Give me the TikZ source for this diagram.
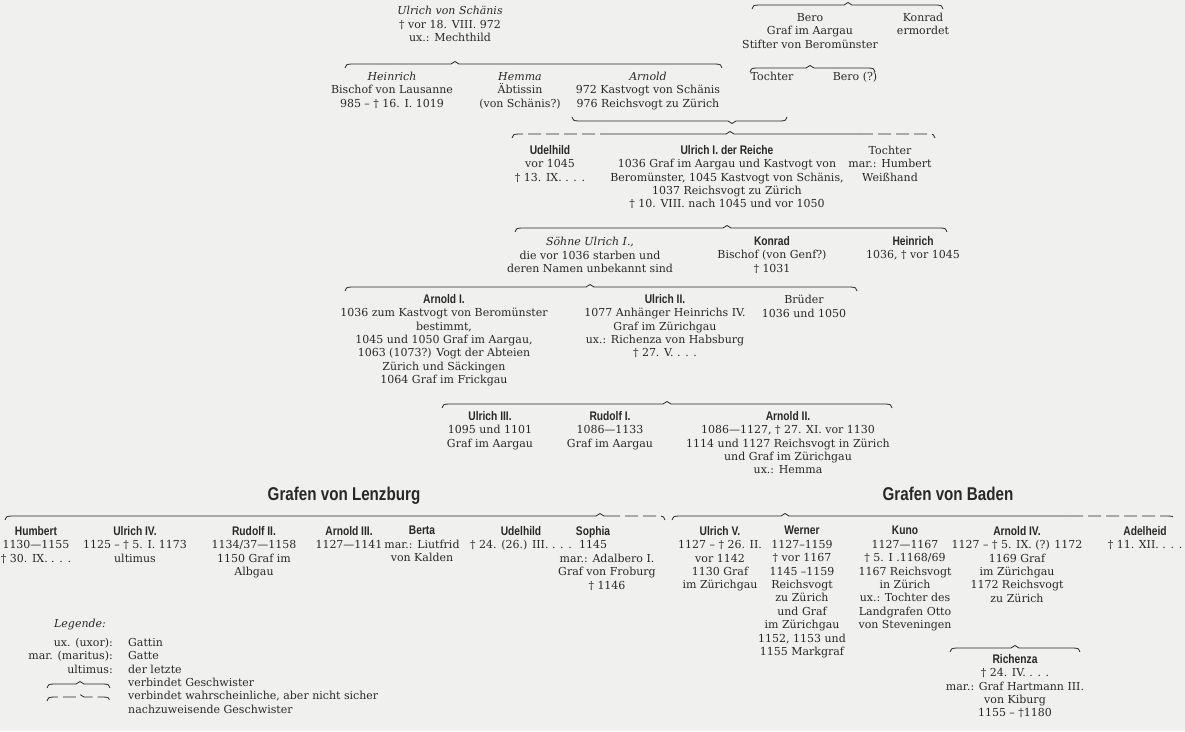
\documentclass[tikz,border=0pt]{standalone}
\usepackage{fontspec}
\setmainfont{DejaVu Serif}
\newfontfamily\namefont{Liberation Sans}[FakeStretch=0.82]
\usetikzlibrary{positioning}
\definecolor{papier}{RGB}{240,240,238}
\definecolor{tinte}{RGB}{40,40,40}
\newcommand{\nm}[1]{{\namefont\bfseries\fontsize{12.5}{13.4}\selectfont #1}}
% Geschwisterklammer: [Stil] x links, x rechts, x Spitze, y
\newcommand{\geschw}[5][]{%
  \draw[sib,#1] (#2,#5+4) .. controls (#2,#5+1) and (#2+2,#5) .. (#2+7,#5)
    -- (#4-4,#5) -- (#4,#5-2.5) -- (#4+4,#5) -- (#3-7,#5)
    .. controls (#3-2,#5) and (#3,#5+1) .. (#3,#5+4);}
% Elternklammer (umgekehrt)
\newcommand{\eltern}[4]{%
  \draw[sib] (#1,#4-4) .. controls (#1,#4-1) and (#1+2,#4) .. (#1+7,#4)
    -- (#3-4,#4) -- (#3,#4+2.5) -- (#3+4,#4) -- (#2-7,#4)
    .. controls (#2-2,#4) and (#2,#4-1) .. (#2,#4-4);}
\tikzset{
  person/.style={anchor=north, align=center, inner sep=0pt, text=tinte},
  sib/.style={line width=0.8pt, draw=tinte},
  vermutet/.style={dash pattern=on 13pt off 5pt},
  titel/.style={anchor=north, inner sep=0pt, text=tinte,
    font=\namefont\bfseries\fontsize{18.5}{20}\selectfont}
}
\begin{document}
\begin{tikzpicture}[x=1pt, y=-1pt, font=\fontsize{11}{13.4}\selectfont]
  \fill[papier] (0,0) rectangle (1185,731);
  \useasboundingbox (0,0) rectangle (1185,731);
  % erste Generationen
  \node[person] (schaenis) at (450,6) {\textit{Ulrich von Schänis}\\† vor 18. VIII. 972\\ux.: Mechthild};
  \node[person] (bero) at (810,13) {Bero\\Graf im Aargau\\Stifter von Beromünster};
  \node[person] (konrad0) at (923,13) {Konrad\\ermordet};
  \geschw{752}{943}{848}{5}
  \geschw{345}{722}{455}{64}
  \geschw{750}{875}{810}{68}
  \node[person] (heinrich0) at (392,72) {\textit{Heinrich}\\Bischof von Lausanne\\985 -- † 16. I. 1019};
  \node[person] (hemma) at (520,72) {\textit{Hemma}\\Äbtissin\\(von Schänis?)};
  \node[person] (arnold0) at (648,72) {\textit{Arnold}\\972 Kastvogt von Schänis\\976 Reichsvogt zu Zürich};
  \node[person] (tochter0) at (772,72) {Tochter};
  \node[person] (bero1) at (855,72) {Bero (?)};
  \eltern{572}{787}{732}{121}
  % Ulrich I. und Geschwister
  \draw[sib,vermutet] (512,138) .. controls (512,135) and (514,134) .. (519,134) -- (605,134);
  \draw[sib] (605,134) -- (726,134) -- (730,131.5) -- (734,134) -- (860,134);
  \draw[sib,vermutet] (860,134) -- (928,134) .. controls (933,134) and (935,135) .. (935,138);
  \node[person] (udelhild0) at (550,145) {\nm{Udelhild}\\vor 1045\\† 13. IX. . . .};
  \node[person] (ulrichI) at (727,145) {\nm{Ulrich I. der Reiche}\\1036 Graf im Aargau und Kastvogt von\\Beromünster, 1045 Kastvogt von Schänis,\\1037 Reichsvogt zu Zürich\\† 10. VIII. nach 1045 und vor 1050};
  \node[person] (tochter1) at (890,146) {Tochter\\mar.: Humbert\\Weißhand};
  % Söhne Ulrich I.
  \geschw{515}{947}{727}{228}
  \node[person] (soehne) at (590,237) {\textit{Söhne Ulrich I.,}\\die vor 1036 starben und\\deren Namen unbekannt sind};
  \node[person] (konrad) at (772,236) {\nm{Konrad}\\Bischof (von Genf?)\\† 1031};
  \node[person] (heinrich) at (913,236) {\nm{Heinrich}\\1036, † vor 1045};
  \geschw{345}{857}{590}{287}
  \node[person] (arnoldI) at (444,294) {\nm{Arnold I.}\\1036 zum Kastvogt von Beromünster\\bestimmt,\\1045 und 1050 Graf im Aargau,\\1063 (1073?) Vogt der Abteien\\Zürich und Säckingen\\1064 Graf im Frickgau};
  \node[person] (ulrichII) at (665,294) {\nm{Ulrich II.}\\1077 Anhänger Heinrichs IV.\\Graf im Zürichgau\\ux.: Richenza von Habsburg\\† 27. V. . . .};
  \node[person] (brueder) at (804,295) {Brüder\\1036 und 1050};
  \geschw{442}{892}{667}{404}
  \node[person] (ulrichIII) at (490,411) {\nm{Ulrich III.}\\1095 und 1101\\Graf im Aargau};
  \node[person] (rudolfI) at (610,411) {\nm{Rudolf I.}\\1086—1133\\Graf im Aargau};
  \node[person] (arnoldII) at (788,411) {\nm{Arnold II.}\\1086—1127, † 27. XI. vor 1130\\1114 und 1127 Reichsvogt in Zürich\\und Graf im Zürichgau\\ux.: Hemma};
  % zwei Linien
  \node[titel] (lenzburg) at (344,487) {Grafen von Lenzburg};
  \node[titel] (baden) at (948,487) {Grafen von Baden};
  \draw[sib] (5,520) .. controls (5,517) and (7,516) .. (12,516) -- (596,516) -- (600,513.5) -- (604,516) -- (607,516);
  \draw[sib,vermutet] (607,516) -- (658,516) .. controls (663,516) and (665,517) .. (665,520);
  \draw[sib] (672,520) .. controls (672,517) and (674,516) .. (679,516) -- (781,516) -- (785,513.5) -- (789,516) -- (1070,516);
  \draw[sib,vermutet] (1070,516) -- (1168,516) .. controls (1173,516) and (1175,517) .. (1175,520);
  \node[person] (humbert) at (36,526) {\nm{Humbert}\\1130—1155\\† 30. IX. . . .};
  \node[person] (ulrichIV) at (135,526) {\nm{Ulrich IV.}\\1125 -- † 5. I. 1173\\ultimus};
  \node[person] (rudolfII) at (254,526) {\nm{Rudolf II.}\\1134/37—1158\\1150 Graf im\\Albgau};
  \node[person] (arnoldIII) at (349,526) {\nm{Arnold III.}\\1127—1141};
  \node[person] (berta) at (422,526) {\nm{Berta}\\mar.: Liutfrid\\von Kalden};
  \node[person] (udelhild1) at (521,526) {\nm{Udelhild}\\† 24. (26.) III. . . .};
  \node[person] (sophia) at (593,526) {\nm{Sophia}\\1145};
  \node[person] (adalbero) at (607,554) {mar.: Adalbero I.\\Graf von Froburg\\† 1146};
  \node[person] (ulrichV) at (720,526) {\nm{Ulrich V.}\\1127 -- † 26. II.\\vor 1142\\1130 Graf\\im Zürichgau};
  \node[person] (werner) at (802,526) {\nm{Werner}\\1127–1159\\† vor 1167\\1145 –1159\\Reichsvogt\\zu Zürich\\und Graf\\im Zürichgau\\1152, 1153 und\\1155 Markgraf};
  \node[person] (kuno) at (905,526) {\nm{Kuno}\\1127—1167\\† 5. I .1168/69\\1167 Reichsvogt\\in Zürich\\ux.: Tochter des\\Landgrafen Otto\\von Steveningen};
  \node[person] (arnoldIV) at (1017,526) {\nm{Arnold IV.}\\1127 -- † 5. IX. (?) 1172\\1169 Graf\\im Zürichgau\\1172 Reichsvogt\\zu Zürich};
  \node[person] (adelheid) at (1145,526) {\nm{Adelheid}\\† 11. XII. . . .};
  \geschw{950}{1080}{1015}{648}
  \node[person] (richenza) at (1015,654) {\nm{Richenza}\\† 24. IV. . . .\\mar.: Graf Hartmann III.\\von Kiburg\\1155 -- †1180};
  % Legende
  \node[person] (legende) at (80,619) {\textit{Legende:}};
  \node[person, anchor=north east, align=right] (kuerzel) at (113,638) {ux. (uxor):\\mar. (maritus):\\ultimus:};
  \node[person, anchor=north west, align=left] (erklaerung) at (128,638) {Gattin\\Gatte\\der letzte\\verbindet Geschwister\\verbindet wahrscheinliche, aber nicht sicher\\nachzuweisende Geschwister};
  \geschw{47}{110}{80}{684}
  \geschw[vermutet]{47}{110}{80}{697}
\end{tikzpicture}
\end{document}
